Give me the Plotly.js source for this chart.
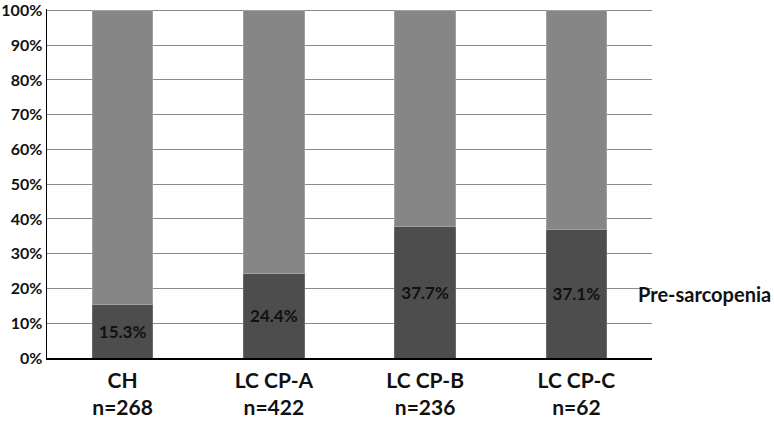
<!DOCTYPE html>
<html>
<head>
<meta charset="utf-8">
<script src="https://cdn.plot.ly/plotly-3.0.1.min.js"></script>
<style>html,body{margin:0;padding:0;background:#fff;}#chart{width:774px;height:421px;}</style>
</head>
<body>
<div id="chart"></div>
<script>
const categories = ["CH", "LC CP-A", "LC CP-B", "LC CP-C"];
const sampleSizes = ["n=268", "n=422", "n=236", "n=62"];
const preSarcopenia = [15.3, 24.4, 37.7, 37.1];
const remainder = [84.7, 75.6, 62.3, 62.9];
const yTickVals = [0, 10, 20, 30, 40, 50, 60, 70, 80, 90, 100];
const yTickText = ["0%", "10%", "20%", "30%", "40%", "50%", "60%", "70%", "80%", "90%", "100%"];
const seriesLabel = "Pre-sarcopenia";

const FONT = "Lato, 'Open Sans', sans-serif";

const traces = [
  {
    type: "bar",
    x: categories,
    y: preSarcopenia,
    name: seriesLabel,
    marker: {color: "#4d4d4d", line: {color: "#6a6a6a", width: 1}},
    text: preSarcopenia.map(v => "<b>" + v.toFixed(1) + "%</b>"),
    textposition: "inside",
    insidetextanchor: "middle",
    textangle: 0,
    constraintext: "none",
    textfont: {family: FONT, size: 17, color: "#111"},
    hoverinfo: "none"
  },
  {
    type: "bar",
    x: categories,
    y: remainder,
    name: "Other",
    marker: {color: "#868686", line: {color: "#a0a0a0", width: 1}},
    hoverinfo: "none"
  }
];

const layout = {
  width: 774,
  height: 421,
  margin: {l: 47, r: 122, t: 9, b: 63},
  barmode: "stack",
  bargap: 0.6,
  showlegend: false,
  paper_bgcolor: "#ffffff",
  plot_bgcolor: "#ffffff",
  font: {family: FONT, color: "#111"},
  xaxis: {
    tickmode: "array",
    tickvals: categories,
    ticktext: categories.map((c, i) => "<b>" + c + "</b><br><b>" + sampleSizes[i] + "</b>"),
    tickfont: {family: FONT, size: 21, color: "#111"},
    ticklabelstandoff: 3,
    showline: true,
    linecolor: "#000",
    linewidth: 1.5,
    ticks: "",
    showgrid: false,
    zeroline: false
  },
  yaxis: {
    range: [0, 100.4],
    tickmode: "array",
    tickvals: yTickVals,
    ticktext: yTickText.map(t => "<b>" + t + "</b>"),
    tickfont: {family: FONT, size: 16, color: "#111"},
    ticklabeloverflow: "allow",
    showline: true,
    linecolor: "#000",
    linewidth: 1.5,
    showgrid: true,
    gridcolor: "#8a8a8a",
    gridwidth: 1,
    zeroline: false,
    ticks: "",
    ticklen: 0
  },
  annotations: [
    {
      xref: "paper",
      yref: "y",
      x: 0.973,
      y: 18.5,
      xanchor: "left",
      yanchor: "middle",
      text: "<b>" + seriesLabel + "</b>",
      showarrow: false,
      font: {family: FONT, size: 20, color: "#111"}
    }
  ]
};

Plotly.newPlot("chart", traces, layout, {displayModeBar: false, staticPlot: true});
</script>
</body>
</html>
